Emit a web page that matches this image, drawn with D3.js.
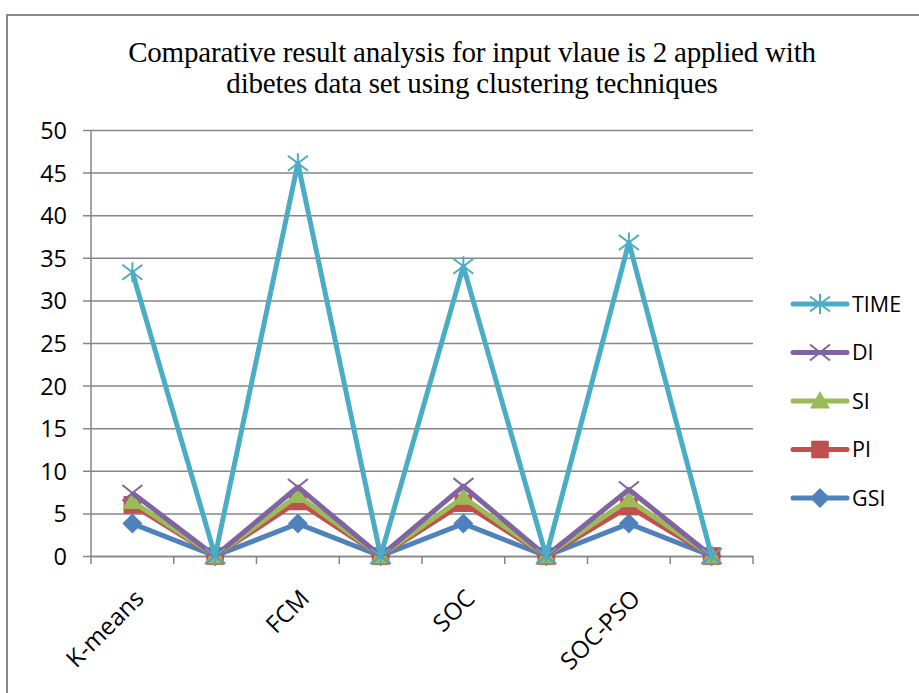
<!DOCTYPE html>
<html>
<head>
<meta charset="utf-8">
<script src="https://cdn.jsdelivr.net/npm/d3@7"></script>
<style>
  body { margin: 0; background: #fff; }
  text { font-family: "Open Sans", "Liberation Sans", Arial, sans-serif; }
</style>
</head>
<body>
<svg id="chart" width="919" height="693"></svg>
<script>
const categories = ['K-means', 'c2', 'FCM', 'c4', 'SOC', 'c6', 'SOC-PSO', 'c8'];
const categoryLabels = ['K-means', '', 'FCM', '', 'SOC', '', 'SOC-PSO', ''];
const yTicks = [0, 5, 10, 15, 20, 25, 30, 35, 40, 45, 50];
const titleLines = ['Comparative result analysis for input vlaue is 2 applied with', 'dibetes data set using clustering techniques'];

const gsi = [3.8, 0, 3.8, 0, 3.8, 0, 3.8, 0];
const pi = [6.0, 0, 6.4, 0, 6.2, 0, 5.8, 0];
const si = [6.4, 0, 7.1, 0, 6.9, 0, 6.6, 0];
const di = [7.4, 0, 8.1, 0, 8.2, 0, 7.8, 0];
const time = [33.3, 0, 46.1, 0, 34.0, 0, 36.8, 0];

// drawing order: first is at the bottom
const series = [
  { name: 'GSI', values: gsi, color: '#4F81BD', marker: 'diamond' },
  { name: 'PI', values: pi, color: '#C0504D', marker: 'square' },
  { name: 'SI', values: si, color: '#9BBB59', marker: 'triangle' },
  { name: 'DI', values: di, color: '#8064A2', marker: 'x' },
  { name: 'TIME', values: time, color: '#4BACC6', marker: 'star' },
];

const svg = d3.select('#chart');
const plot = { left: 91, right: 753, top: 130, bottom: 556 };

// outer frame
svg.append('path')
  .attr('d', `M7,700 L7,15 L925,15`)
  .attr('fill', 'none')
  .attr('stroke', '#888')
  .attr('stroke-width', 2);

svg.append('g').selectAll('text')
  .data(titleLines)
  .join('text')
  .attr('x', 472)
  .attr('y', (d, i) => 62 + i * 31)
  .attr('text-anchor', 'middle')
  .style('font-family', '"Liberation Serif", serif')
  .style('font-size', '29px')
  .style('letter-spacing', '-0.2px')
  .attr('fill', '#000')
  .text(d => d);

const x = d3.scaleBand().domain(categories).range([plot.left, plot.right]);
const y = d3.scaleLinear().domain([0, 50]).range([plot.bottom, plot.top]);

// gridlines + y axis
const yAxis = svg.append('g')
  .attr('transform', `translate(${plot.left},0)`)
  .call(d3.axisLeft(y).tickValues(yTicks).tickSize(-(plot.right - plot.left)).tickSizeOuter(0).tickPadding(24));
yAxis.select('.domain').remove();
yAxis.selectAll('.tick line').attr('stroke', '#868686').attr('stroke-width', 1.5).attr('x1', -8);
yAxis.selectAll('.tick text')
  .style('font-size', '23.5px').attr('fill', '#000')
  .attr('dy', '0.36em');

svg.append('line')
  .attr('x1', plot.left).attr('x2', plot.left)
  .attr('y1', plot.top).attr('y2', plot.bottom)
  .attr('stroke', '#868686').attr('stroke-width', 1.5);

// x axis
const xAxis = svg.append('g')
  .attr('transform', `translate(0,${plot.bottom})`)
  .call(d3.axisBottom(x).tickFormat((d, i) => categoryLabels[i]).tickSize(0).tickPadding(0));
xAxis.select('.domain').attr('stroke', '#868686').attr('stroke-width', 1.5);
xAxis.selectAll('.tick text')
  .style('font-size', '24px').attr('fill', '#000')
  .attr('text-anchor', 'end')
  .attr('y', 0)
  .attr('transform', 'translate(7,38) rotate(-45)')
  .attr('dy', '0.35em');
const bounds = categories.map(c => x(c)).concat([plot.right]);
svg.append('g').selectAll('line')
  .data(bounds)
  .join('line')
  .attr('x1', d => d).attr('x2', d => d)
  .attr('y1', plot.bottom).attr('y2', plot.bottom + 8)
  .attr('stroke', '#868686').attr('stroke-width', 1.5);

const cx = (d, i) => x(categories[i]) + x.bandwidth() / 2;
const line = d3.line().x(cx).y(d => y(d));

function drawMarker(g, type, color, s) {
  if (type === 'diamond') {
    g.append('path').attr('d', `M0,${-s}L${s},0L0,${s}L${-s},0Z`).attr('fill', color);
  } else if (type === 'square') {
    g.append('rect').attr('x', -s * 0.8).attr('y', -s * 0.8).attr('width', s * 1.6).attr('height', s * 1.6).attr('fill', color);
  } else if (type === 'triangle') {
    g.append('path').attr('d', `M0,${-s}L${s},${s * 0.75}L${-s},${s * 0.75}Z`).attr('fill', color);
  } else if (type === 'x') {
    g.append('path').attr('d', `M${-s},${-s * 0.8}L${s},${s * 0.8}M${s},${-s * 0.8}L${-s},${s * 0.8}`)
      .attr('stroke', color).attr('stroke-width', 2);
  } else if (type === 'star') {
    g.append('path').attr('d', `M${-s},${-s * 0.75}L${s},${s * 0.75}M${s},${-s * 0.75}L${-s},${s * 0.75}M0,${-s}L0,${s}`)
      .attr('stroke', color).attr('stroke-width', 2);
  }
}

const sizes = { diamond: 10, square: 11, triangle: 10, x: 10, star: 10 };

series.forEach(s => {
  const g = svg.append('g').attr('class', 'series');
  g.append('path')
    .attr('d', line(s.values))
    .attr('fill', 'none')
    .attr('stroke', s.color)
    .attr('stroke-width', 5)
    .attr('stroke-linejoin', 'round');
  s.values.forEach((v, i) => {
    const m = g.append('g').attr('transform', `translate(${cx(v, i)},${y(v)})`);
    drawMarker(m, s.marker, s.color, sizes[s.marker]);
  });
});

// legend, top to bottom reversed
const legend = svg.append('g');
series.slice().reverse().forEach((s, i) => {
  const ly = 304 + i * 48.5;
  const g = legend.append('g').attr('transform', `translate(0,${ly})`);
  g.append('line').attr('x1', 793).attr('x2', 847).attr('y1', 0).attr('y2', 0)
    .attr('stroke', s.color).attr('stroke-width', 5).attr('stroke-linecap', 'round');
  const m = g.append('g').attr('transform', 'translate(820,0)');
  drawMarker(m, s.marker, s.color, sizes[s.marker]);
  g.append('text').attr('x', 852).attr('y', 0).attr('dy', '0.36em')
    .style('font-size', '21.5px').attr('fill', '#000').text(s.name);
});
</script>
</body>
</html>
